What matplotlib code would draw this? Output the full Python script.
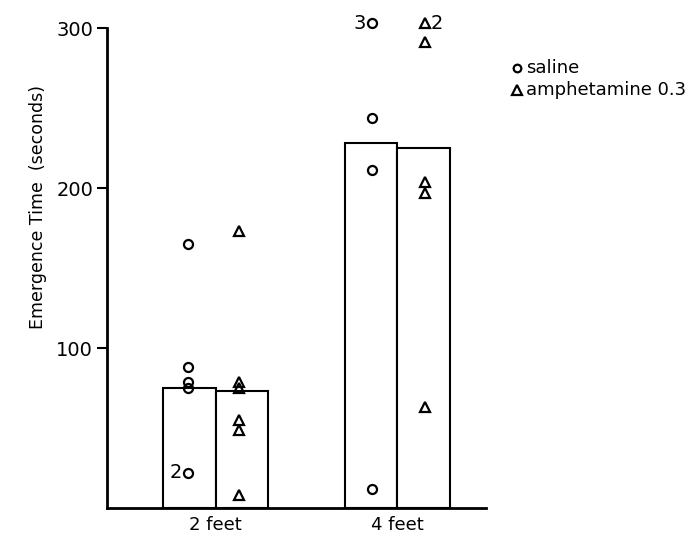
import numpy as np
import matplotlib
matplotlib.use("Agg")
import matplotlib.pyplot as plt

# emergence times (s), read per animal; "n" = how many animals share a value
groups = ["2 feet", "4 feet"]
saline_means = [75, 228]
amph_means = [73, 225]

saline_2ft = [165, 88, 79, 75, 22]
saline_2ft_n = [1, 1, 1, 1, 2]
amph_2ft = [173, 79, 75, 55, 49, 8]
amph_2ft_n = [1, 1, 1, 1, 1, 1]
saline_4ft = [303, 244, 211, 12]
saline_4ft_n = [3, 1, 1, 1]
amph_4ft = [303, 291, 204, 197, 63]
amph_4ft_n = [2, 1, 1, 1, 1]

yticks = [100, 200, 300]

plt.rcParams['font.family'] = ['DejaVu Sans']

fig = plt.figure(figsize=(6.91, 5.37), dpi=100)
W, H = 691, 537
ax = fig.add_axes([107 / W, 29 / H, (486 - 107) / W, (508 - 28) / H])

bw = 0.29
x = np.arange(len(groups))
ax.bar(x - bw / 2, saline_means, width=bw, facecolor="white", edgecolor="black", linewidth=1.5)
ax.bar(x + bw / 2, amph_means, width=bw, facecolor="white", edgecolor="black", linewidth=1.5)

mk = dict(markerfacecolor="none", markeredgecolor="black", markeredgewidth=1.6,
          linestyle="none", zorder=3)


def scatter(xpos, vals, counts, marker, size, side):
    ax.plot([xpos] * len(vals), vals, marker=marker, markersize=size, clip_on=False, **mk)
    for v, n in zip(vals, counts):
        if n > 1:
            if side == "left":
                ax.text(xpos - 0.03, v, str(n), ha="right", va="center", fontsize=14)
            else:
                ax.text(xpos + 0.03, v, str(n), ha="left", va="center", fontsize=14)


scatter(0 - 0.155, saline_2ft, saline_2ft_n, "o", 6.5, "left")
scatter(0 + 0.13, amph_2ft, amph_2ft_n, "^", 7.5, "right")
scatter(1 - 0.14, saline_4ft, saline_4ft_n, "o", 6.5, "left")
scatter(1 + 0.155, amph_4ft, amph_4ft_n, "^", 7.5, "right")

ax.set_xlim(-0.60, 1.49)
ax.set_ylim(0, 300)
ax.set_yticks(yticks)
ax.set_yticklabels([str(t) for t in yticks], fontsize=14)
ax.set_xticks(x)
ax.set_xticklabels(groups, fontsize=13)
ax.tick_params(axis="x", length=0, pad=6)
ax.tick_params(axis="y", direction="out", length=7, width=1.5, pad=3)

for s in ["top", "right"]:
    ax.spines[s].set_visible(False)
ax.spines["left"].set_linewidth(2)
ax.spines["bottom"].set_linewidth(2)

fig.text(38 / W, 1 - 207 / H, "Emergence Time  (seconds)", rotation=90,
         ha="center", va="center", fontsize=12.5)

# legend drawn by hand at the upper right
fig.lines.append(plt.Line2D([517 / W], [1 - 68 / H], marker="o", markersize=5.5,
                            transform=fig.transFigure, **mk))
fig.lines.append(plt.Line2D([517 / W], [1 - 90 / H], marker="^", markersize=6.5,
                            transform=fig.transFigure, **mk))
fig.text(526 / W, 1 - 68 / H, "saline", ha="left", va="center", fontsize=13)
fig.text(526 / W, 1 - 90 / H, "amphetamine 0.3", ha="left", va="center", fontsize=13)

fig.savefig("out.png", dpi=100)
